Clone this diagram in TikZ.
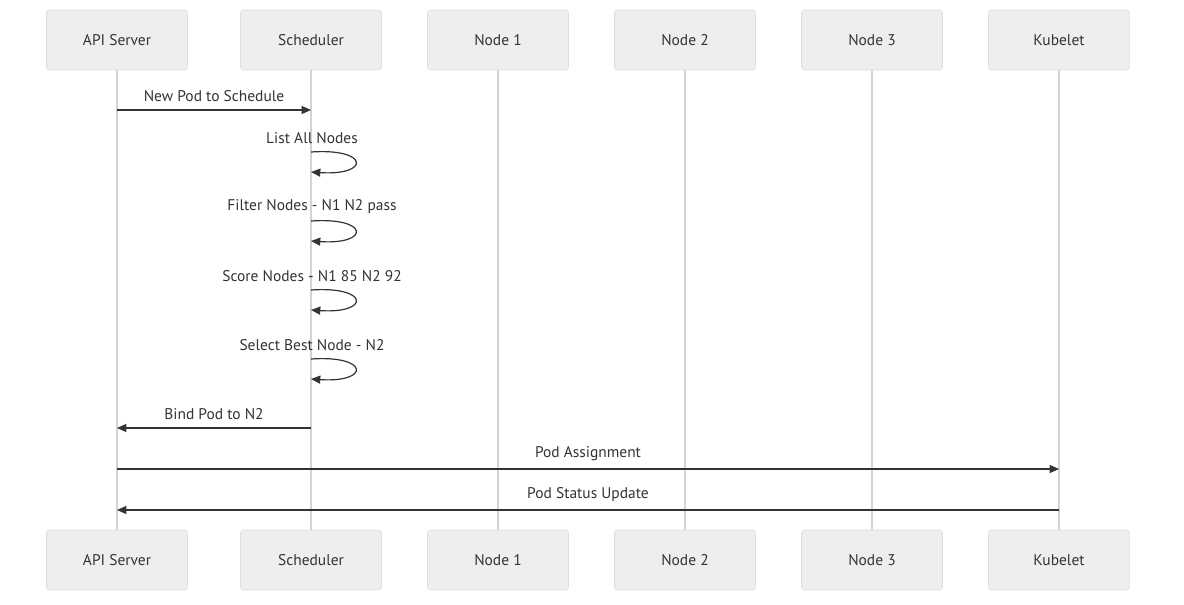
\documentclass[tikz,border=0pt]{standalone}
\usepackage{fontspec}
\setmainfont{PT Sans}
\usepackage{xcolor}
\usepackage{tikz}
\usetikzlibrary{positioning, arrows.meta}
\definecolor{boxfill}{HTML}{EEEEEE}
\definecolor{boxline}{HTML}{DDDDDD}
\definecolor{lifeline}{HTML}{D3D3D3}
\definecolor{ink}{HTML}{333333}
\tikzset{
x=0.75pt, y=-0.75pt, % one unit is one pixel of the reference
node distance=140.25pt, % spacing between the participants
every node/.style={font=\fontsize{11.6}{13}\selectfont, text=ink},
actor/.style={draw=boxline, fill=boxfill, rounded corners=2pt, minimum width=105.75pt, minimum height=45pt}, % participant boxes
life/.style={draw=lifeline, line width=1.1pt}, % lifelines
msg/.style={draw=ink, line width=0.9pt, -{Triangle[length=7pt,width=6pt]}}, % messages
}

\begin{document}
\begin{tikzpicture}
    \useasboundingbox (0,0) rectangle (1184,605);

    % participants, top row
    \node[actor] (api) at (117,40) {API Server};
    \node[actor, right of=api, node distance=145.5pt] (sch) {Scheduler};
    \node[actor, right of=sch] (n1) {Node 1};
    \node[actor, right of=n1] (n2) {Node 2};
    \node[actor, right of=n2] (n3) {Node 3};
    \node[actor, right of=n3] (kub) {Kubelet};

    % participants, bottom row
    \node[actor] (apiB) at (117,560) {API Server};
    \node[actor, right of=apiB, node distance=145.5pt] (schB) {Scheduler};
    \node[actor, right of=schB] (n1B) {Node 1};
    \node[actor, right of=n1B] (n2B) {Node 2};
    \node[actor, right of=n2B] (n3B) {Node 3};
    \node[actor, right of=n3B] (kubB) {Kubelet};

    % lifelines
    \foreach \a in {api, sch, n1, n2, n3, kub}
        \draw[life] (\a.south) -- (\a B.north);

    % messages
    \draw[msg] (api |- 0,110) -- node[above=2.5pt]{New Pod to Schedule} (sch |- 0,110);
    \foreach \y/\txt in {152/List All Nodes, 221/Filter Nodes - N1 N2 pass,
                         290/Score Nodes - N1 85 N2 92, 359/Select Best Node - N2} {
        \node at (312,\y-14) {\txt};
        \draw[msg] (sch |- 0,\y) .. controls (370,\y-4) and (370,\y+24) .. (sch |- 0,\y+20);
    }
    \draw[msg] (sch |- 0,428) -- node[above=2.5pt]{Bind Pod to N2} (api |- 0,428);
    \draw[msg] (api |- 0,469) -- node[above=2.5pt]{Pod Assignment} (kub |- 0,469);
    \draw[msg] (kub |- 0,510) -- node[above=2.5pt]{Pod Status Update} (api |- 0,510);

\end{tikzpicture}
\end{document}
